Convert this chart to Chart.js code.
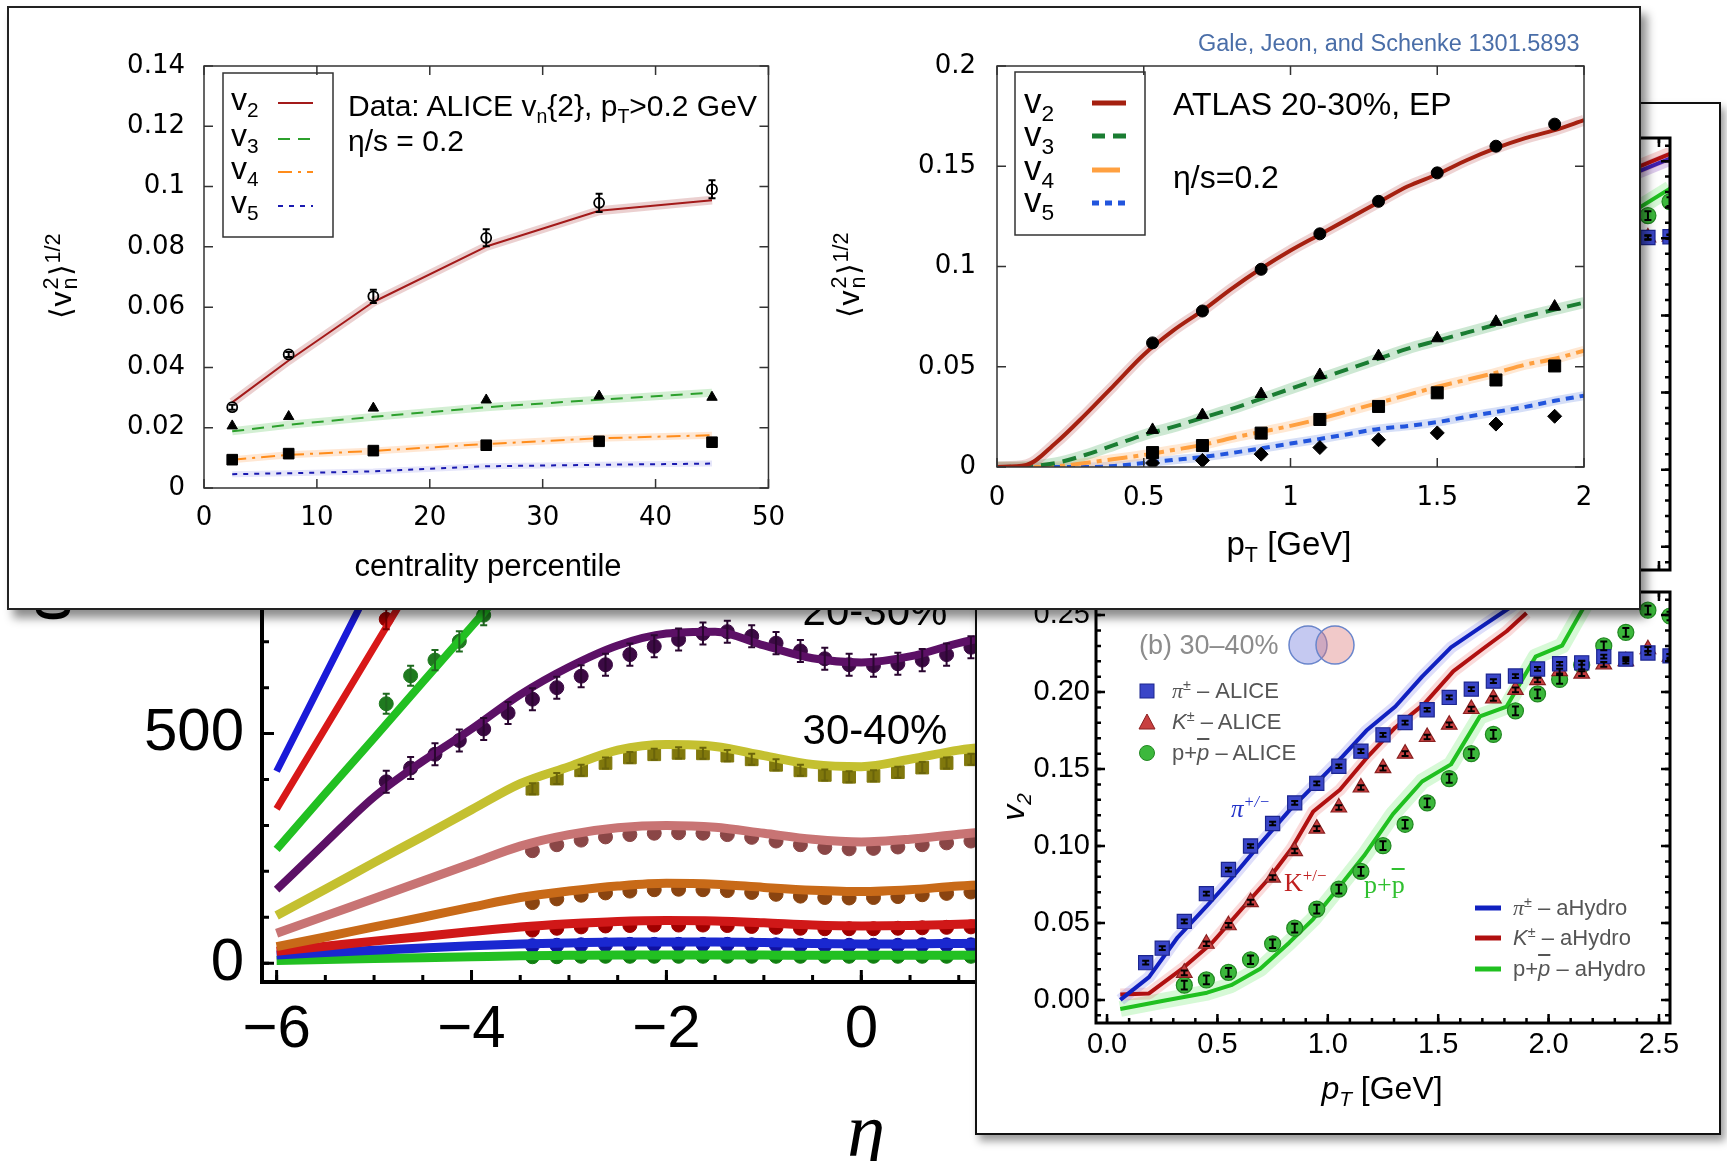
<!DOCTYPE html>
<html>
<head>
<meta charset="utf-8">
<script src="https://cdn.jsdelivr.net/npm/chart.js@4.4.1/dist/chart.umd.min.js"></script>
<style>
  body { margin:0; width:1727px; height:1161px; position:relative; overflow:hidden; background:#fff;
         font-family:'Liberation Sans', Arial, sans-serif; color:#000; }
  canvas { position:absolute; }
  .a { position:absolute; white-space:nowrap; line-height:1; transform:translateY(-50%); }
  .c { transform:translate(-50%,-50%); }
  .rot { transform:translate(-50%,-50%) rotate(-90deg); }
  sub, sup { font-size:0.65em; line-height:0; }
  .yt sup { font-size:0.72em; }
  .st { display:inline-flex; flex-direction:column; font-size:.72em; line-height:.9; vertical-align:0.6em; margin:0 2px; }
  #topBox { position:absolute; left:7px; top:6px; width:1634px; height:604px; box-sizing:border-box;
            border:2px solid #222; background:#fff; box-shadow:6px 8px 9px rgba(0,0,0,0.45); z-index:10; }
  #rightBox { position:absolute; left:975px; top:102px; width:746px; height:1033px; box-sizing:border-box;
              border:2px solid #111; background:#fff; box-shadow:4px 6px 8px rgba(0,0,0,0.4); z-index:5; }
  .narrow { font-family:'Liberation Sans Narrow', 'Liberation Sans', Arial, sans-serif; }
  .serif { font-family:'Liberation Serif', 'DejaVu Serif', serif; }
</style>
</head>
<body>

<!-- background: pseudorapidity distributions -->
<canvas id="cEta" width="1000" height="711" style="left:0;top:450px;z-index:1"></canvas>
<div class="a c narrow" style="left:875px;top:730px;font-size:42px;z-index:2">30-40%</div>
<div class="a c narrow" style="left:875px;top:611px;font-size:42px;z-index:2">20-30%</div>
<div class="a c serif" style="left:866px;top:1130px;font-size:76px;font-style:italic;z-index:2">η</div>
<div class="a" style="left:16px;top:622px;font-size:64px;line-height:1;transform-origin:0 0;transform:rotate(-90deg);z-index:2">dN/dη</div>

<!-- right panel: identified particle v2 -->
<div id="rightBox"></div>
<canvas id="cA" width="735" height="480" style="left:980px;top:110px;z-index:6"></canvas>
<canvas id="cB" width="735" height="560" style="left:980px;top:560px;z-index:6"></canvas>
<svg width="746" height="1033" style="position:absolute;left:975px;top:102px;z-index:7">
  <circle cx="333" cy="543" r="19" fill="rgba(110,120,220,0.4)" stroke="#6a86cc" stroke-width="1.5"/>
  <circle cx="360" cy="543" r="19" fill="rgba(220,120,120,0.4)" stroke="#6a86cc" stroke-width="1.5"/>
  <rect x="165" y="582" width="14" height="14" fill="#3a46c8" stroke="#1c2690" stroke-width="1"/>
  <polygon points="172,612 180,627 164,627" fill="#c84040" stroke="#8a2020" stroke-width="1"/>
  <circle cx="172" cy="651" r="7.5" fill="#3cb83c" stroke="#228822" stroke-width="1"/>
  <line x1="500" y1="806" x2="526" y2="806" stroke="#1020c0" stroke-width="5"/>
  <line x1="500" y1="836" x2="526" y2="836" stroke="#b01010" stroke-width="5"/>
  <line x1="500" y1="867" x2="526" y2="867" stroke="#20c020" stroke-width="5"/>
</svg>
<div class="a" style="left:1139px;top:645px;font-size:27px;color:#8c8c8c;z-index:7">(b) 30–40%</div>
<div class="a" style="left:1172px;top:691px;font-size:22px;color:#555;z-index:7"><i class="serif">π</i><sup>±</sup> – ALICE</div>
<div class="a" style="left:1172px;top:722px;font-size:22px;color:#555;z-index:7"><i>K</i><sup>±</sup> – ALICE</div>
<div class="a" style="left:1172px;top:753px;font-size:22px;color:#555;z-index:7">p+<i style="text-decoration:overline">p</i> – ALICE</div>
<div class="a" style="left:1513px;top:908px;font-size:22px;color:#555;z-index:7"><i class="serif">π</i><sup>±</sup> – aHydro</div>
<div class="a" style="left:1513px;top:938px;font-size:22px;color:#555;z-index:7"><i>K</i><sup>±</sup> – aHydro</div>
<div class="a" style="left:1513px;top:969px;font-size:22px;color:#555;z-index:7">p+<i style="text-decoration:overline">p</i> – aHydro</div>
<div class="a serif" style="left:1231px;top:808px;font-size:25px;color:#2232c8;font-style:italic;z-index:7">π<sup>+/−</sup></div>
<div class="a serif" style="left:1284px;top:883px;font-size:26px;color:#c02020;z-index:7">K<sup>+/−</sup></div>
<div class="a serif" style="left:1364px;top:885px;font-size:26px;color:#30c030;z-index:7">p+<span style="text-decoration:overline">p</span></div>
<div class="a c" style="left:1382px;top:1088px;font-size:32px;z-index:7"><i>p<sub>T</sub></i> [GeV]</div>
<div class="a rot" style="left:1013px;top:807px;font-size:32px;font-style:italic;z-index:7">v<sub>2</sub></div>

<!-- foreground box: two hydro comparisons -->
<div id="topBox"></div>
<canvas id="cCent" width="790" height="590" style="left:10px;top:10px;z-index:11"></canvas>
<canvas id="cAtlas" width="820" height="590" style="left:810px;top:10px;z-index:11"></canvas>
<svg width="1634" height="604" style="position:absolute;left:7px;top:6px;z-index:12">
  <rect x="216" y="67" width="110" height="164" fill="none" stroke="#333" stroke-width="1.5"/>
  <line x1="271" y1="97" x2="306" y2="97" stroke="#a31a1a" stroke-width="2"/>
  <line x1="271" y1="133" x2="306" y2="133" stroke="#2ca02c" stroke-width="2" stroke-dasharray="12 8"/>
  <line x1="271" y1="166" x2="306" y2="166" stroke="#ff8c1a" stroke-width="2" stroke-dasharray="14 6 3 6"/>
  <line x1="271" y1="200" x2="306" y2="200" stroke="#1a1ab0" stroke-width="2" stroke-dasharray="5 6"/>
  <rect x="1008" y="66" width="130" height="163" fill="none" stroke="#333" stroke-width="1.5"/>
  <line x1="1085" y1="97" x2="1119" y2="97" stroke="#a52010" stroke-width="5"/>
  <line x1="1085" y1="130" x2="1119" y2="130" stroke="#1a7d32" stroke-width="5" stroke-dasharray="13 8"/>
  <line x1="1085" y1="164" x2="1113" y2="164" stroke="#ffa040" stroke-width="5"/>
  <line x1="1085" y1="197" x2="1119" y2="197" stroke="#2255dd" stroke-width="5" stroke-dasharray="7 6"/>
</svg>
<div class="a" style="left:231px;top:99px;font-size:32px;z-index:12">v<sub>2</sub></div>
<div class="a" style="left:231px;top:135px;font-size:32px;z-index:12">v<sub>3</sub></div>
<div class="a" style="left:231px;top:168px;font-size:32px;z-index:12">v<sub>4</sub></div>
<div class="a" style="left:231px;top:202px;font-size:32px;z-index:12">v<sub>5</sub></div>
<div class="a" style="left:348px;top:106px;font-size:30px;z-index:12">Data: ALICE v<sub>n</sub>{2}, p<sub>T</sub>&gt;0.2 GeV</div>
<div class="a" style="left:348px;top:141px;font-size:30px;z-index:12">η/s = 0.2</div>
<div class="a c" style="left:488px;top:565px;font-size:31px;z-index:12">centrality percentile</div>
<div class="a rot yt" style="left:60px;top:276px;font-size:30px;z-index:12">⟨v<span class="st"><span>2</span><span>n</span></span>⟩<sup>1/2</sup></div>

<div class="a" style="left:1024px;top:100px;font-size:35px;z-index:12">v<sub>2</sub></div>
<div class="a" style="left:1024px;top:133px;font-size:35px;z-index:12">v<sub>3</sub></div>
<div class="a" style="left:1024px;top:167px;font-size:35px;z-index:12">v<sub>4</sub></div>
<div class="a" style="left:1024px;top:199px;font-size:35px;z-index:12">v<sub>5</sub></div>
<div class="a" style="left:1173px;top:104px;font-size:32px;z-index:12">ATLAS 20-30%, EP</div>
<div class="a" style="left:1173px;top:177px;font-size:32px;z-index:12">η/s=0.2</div>
<div class="a c" style="left:1289px;top:543px;font-size:33px;z-index:12">p<sub>T</sub> [GeV]</div>
<div class="a rot yt" style="left:848px;top:275px;font-size:30px;z-index:12">⟨v<span class="st"><span>2</span><span>n</span></span>⟩<sup>1/2</sup></div>
<div class="a narrow" style="left:1198px;top:44px;font-size:23.5px;color:#4a6ea8;z-index:12">Gale, Jeon, and Schenke 1301.5893</div>

<script>
// ---------- top left: rms vn vs centrality ----------
const centPct = [2.5, 7.5, 15, 25, 35, 45];
const v2Alice = [0.0268, 0.0443, 0.0636, 0.083, 0.0946, 0.0991];
const v2AliceErr = [0.0008, 0.0008, 0.0022, 0.0028, 0.003, 0.003];
const v3Alice = [0.0206, 0.0237, 0.0265, 0.0292, 0.0305, 0.0301];
const v4Alice = [0.0094, 0.0114, 0.0124, 0.0142, 0.0155, 0.0152];
const v2Hydro = [0.0284, 0.0423, 0.0617, 0.0801, 0.092, 0.0955];
const v3Hydro = [0.0188, 0.021, 0.0236, 0.0268, 0.0293, 0.0316];
const v4Hydro = [0.0094, 0.011, 0.0123, 0.0146, 0.0165, 0.0175];
const v5Hydro = [0.0046, 0.0049, 0.0055, 0.0072, 0.0077, 0.0081];

// ---------- top right: ATLAS 20-30% vn(pT) ----------
const atlasPt = [0.53, 0.7, 0.9, 1.1, 1.3, 1.5, 1.7, 1.9];
const atlasV2 = [0.0619, 0.0778, 0.0986, 0.1163, 0.1325, 0.1467, 0.160, 0.171];
const atlasV3 = [0.0185, 0.0259, 0.0364, 0.0459, 0.0553, 0.0642, 0.0724, 0.080];
const atlasV4 = [0.0072, 0.0107, 0.0169, 0.0237, 0.0302, 0.037, 0.0434, 0.0504];
const atlasV5 = [0.002, 0.0033, 0.0064, 0.0097, 0.0136, 0.017, 0.0214, 0.0253];
const hydroPt = [0, 0.1, 0.2, 0.3, 0.4, 0.5, 0.6, 0.7, 0.8, 0.9, 1.0, 1.1, 1.2, 1.3, 1.4, 1.5, 1.6, 1.7, 1.8, 1.9, 2.0];
const hydroV2 = [0, 0.001, 0.012, 0.026, 0.041, 0.056, 0.068, 0.078, 0.089, 0.099, 0.108, 0.116, 0.124, 0.132, 0.140, 0.146, 0.153, 0.159, 0.164, 0.168, 0.173];
const hydroV3 = [0, 0.0003, 0.002, 0.006, 0.011, 0.016, 0.020, 0.0245, 0.029, 0.034, 0.039, 0.044, 0.049, 0.054, 0.059, 0.063, 0.067, 0.071, 0.075, 0.0785, 0.082];
const hydroV4 = [0, 0, 0.0003, 0.002, 0.004, 0.006, 0.0085, 0.011, 0.0145, 0.0175, 0.0205, 0.024, 0.028, 0.032, 0.036, 0.040, 0.0435, 0.047, 0.051, 0.054, 0.058];
const hydroV5 = [0, 0, 0, 0, 0.0005, 0.002, 0.0035, 0.005, 0.007, 0.0093, 0.0117, 0.014, 0.0165, 0.019, 0.0205, 0.0224, 0.025, 0.0275, 0.030, 0.033, 0.0356];

// ---------- background: dN/deta vs eta ----------
const etaGrid = [-6, -5.5, -5, -4.5, -4, -3.5, -3, -2.5, -2, -1.5, -1, -0.5, 0, 0.5, 1, 1.5];
const blueTop = [418, 628, 837, 1047];
const redTop = [336, 512, 688, 864, 1040];
const greenTop = [248, 370, 490, 612, 733, 855, 975];
const purple = [160, 262, 362, 440, 510, 585, 645, 692, 718, 722, 692, 664, 655, 668, 697, 720];
const yellow = [104, 161, 219, 276, 334, 391, 428, 464, 476, 472, 452, 433, 428, 444, 464, 475];
const pink = [65, 103, 141, 179, 217, 255, 280, 295, 300, 296, 283, 270, 264, 270, 281, 290];
const orange = [36, 57, 79, 100, 122, 143, 157, 168, 174, 172, 165, 159, 156, 160, 168, 172];
const red = [26, 37, 48, 58, 69, 79, 86, 91, 93, 92, 88, 83, 81, 82, 85, 88];
const blue = [18, 23, 28, 33, 38, 42, 44, 46, 46, 46, 45, 43, 42, 42, 43, 44];
const green = [6, 8, 10, 12, 14, 16, 17, 18, 18, 18, 18, 17, 17, 17, 17, 18];

const greenTopEta = [-4.875, -4.625, -4.375, -4.125, -3.875];
const greenTopData = [565, 626, 660, 701, 758];
const redTopEta = [-4.875];
const redTopData = [749];
const purpleEta = [-4.875, -4.625, -4.375, -4.125, -3.875, -3.625, -3.375, -3.125, -2.875, -2.625, -2.375, -2.125, -1.875,
                   -1.625, -1.375, -1.125, -0.875, -0.625, -0.375, -0.125, 0.125, 0.375, 0.625, 0.875, 1.125];
const purpleData = [395, 425, 455, 485, 510, 545, 575, 600, 625, 650, 672, 690, 705, 718, 722, 712, 697, 680, 663, 650, 648, 652, 660, 672, 688];
const dataEta = [-3.375, -3.125, -2.875, -2.625, -2.375, -2.125, -1.875, -1.625, -1.375, -1.125, -0.875, -0.625, -0.375,
                 -0.125, 0.125, 0.375, 0.625, 0.875, 1.125];
const yellowData = [380, 402, 420, 436, 448, 455, 458, 457, 452, 444, 432, 420, 410, 406, 408, 416, 426, 436, 444];
const pinkData = [245, 258, 268, 275, 280, 283, 284, 283, 280, 274, 266, 258, 252, 249, 250, 253, 258, 262, 266];
const orangeData = [132, 140, 148, 153, 157, 160, 161, 160, 158, 154, 150, 146, 143, 142, 143, 145, 149, 152, 155];
const redData = [72, 76, 79, 81, 82, 83, 83, 83, 82, 80, 78, 76, 75, 75, 75, 76, 77, 78, 79];
const blueData = [38, 39, 40, 40, 41, 41, 41, 41, 41, 40, 40, 39, 39, 39, 39, 39, 40, 40, 40];
const greenData = [14, 14, 15, 15, 15, 15, 15, 15, 15, 15, 15, 15, 15, 15, 15, 15, 15, 15, 15];

// ---------- right panel (b) 30-40%: identified hadrons ----------
const piPt = [0.175, 0.25, 0.35, 0.45, 0.55, 0.65, 0.75, 0.85, 0.95, 1.05, 1.15, 1.25, 1.35, 1.45, 1.55, 1.65, 1.75, 1.85, 1.95, 2.05, 2.15, 2.25, 2.35, 2.45, 2.55];
const piV2 = [0.0242, 0.0336, 0.051, 0.069, 0.0847, 0.100, 0.1146, 0.128, 0.1407, 0.1518, 0.1616, 0.1722, 0.1802, 0.1885, 0.1965, 0.2019, 0.2071, 0.2104, 0.215, 0.2184, 0.219, 0.223, 0.2214, 0.2254, 0.2235];
const kpPt = [0.35, 0.45, 0.55, 0.65, 0.75, 0.85, 0.95, 1.05, 1.15, 1.25, 1.35, 1.45, 1.55, 1.65, 1.75, 1.85, 1.95, 2.05, 2.15, 2.25, 2.35, 2.45, 2.55];
const kV2 = [0.0176, 0.0365, 0.0485, 0.0635, 0.0795, 0.0967, 0.1113, 0.125, 0.138, 0.1506, 0.160, 0.1708, 0.1788, 0.189, 0.1958, 0.2014, 0.2078, 0.2136, 0.212, 0.218, 0.220, 0.2278, 0.223];
const pV2 = [0.0096, 0.013, 0.0179, 0.0261, 0.0365, 0.0466, 0.059, 0.072, 0.0835, 0.1002, 0.1141, 0.128, 0.1438, 0.160, 0.1725, 0.1878, 0.1988, 0.2082, 0.2176, 0.230, 0.2388, 0.2532, 0.2494];
const piLinePt = [0.06, 0.19, 0.32, 0.45, 0.56, 0.69, 0.825, 0.956, 1.066, 1.175, 1.306, 1.427, 1.558, 1.678, 1.8, 1.9];
const piLine = [0.0, 0.0148, 0.0407, 0.0607, 0.0784, 0.1007, 0.123, 0.142, 0.158, 0.175, 0.1906, 0.210, 0.229, 0.2407, 0.2525, 0.262];
const kLinePt = [0.06, 0.19, 0.344, 0.475, 0.606, 0.737, 0.836, 0.934, 1.055, 1.175, 1.306, 1.438, 1.569, 1.7, 1.81, 1.9];
const kLine = [0.0035, 0.0042, 0.0207, 0.037, 0.0584, 0.0795, 0.0984, 0.1224, 0.1365, 0.157, 0.177, 0.1925, 0.2136, 0.2278, 0.2395, 0.2513];
const pLinePt = [0.06, 0.256, 0.453, 0.562, 0.694, 0.825, 0.934, 1.044, 1.164, 1.295, 1.427, 1.558, 1.689, 1.81, 1.941, 2.061, 2.149, 2.2];
const pLine = [-0.0059, -0.0005, 0.0047, 0.0096, 0.0202, 0.0372, 0.0525, 0.072, 0.0936, 0.1207, 0.1419, 0.153, 0.1842, 0.1906, 0.223, 0.2301, 0.2525, 0.265];

// panel (a), only its right edge peeks out
const aPt = [2.45, 2.55];
const aPiK = [0.2005, 0.201];
const aP = [0.2147, 0.2238];
const aLinePt = [2.3, 2.55];
const aPiLine = [0.237, 0.2516];
const aKLine = [0.240, 0.2548];
const aPLine = [0.210, 0.2322];

Chart.defaults.font.family = "'Liberation Sans', Arial, sans-serif";
Chart.defaults.color = '#000';

const pts = (xs, ys) => xs.map((x, i) => ({ x, y: ys[i] }));
const range = (a, b, s) => { const r = []; for (let v = a; v <= b + 1e-9; v += s) r.push(+v.toFixed(4)); return r; };

function curve(xs, ys, color, width, dash, smooth) {
  return { data: pts(xs, ys), showLine: true, borderColor: color, borderWidth: width, borderDash: dash || [],
           pointRadius: 0, tension: smooth ? 0.4 : 0, cubicInterpolationMode: smooth ? 'monotone' : 'default',
           borderCapStyle: 'butt', borderJoinStyle: 'round' };
}
function marks(xs, ys, style, r, fill, edge, bw, err, errColor) {
  return { data: pts(xs, ys), showLine: false, pointStyle: style, pointRadius: r, backgroundColor: fill,
           borderColor: edge, borderWidth: bw, errY: err, errColor: errColor || '#000' };
}

// vertical error bars with small caps
const errorBars = {
  id: 'errorBars',
  afterDatasetsDraw(chart) {
    const { ctx, chartArea: a, scales: { x, y } } = chart;
    ctx.save();
    ctx.beginPath(); ctx.rect(a.left, a.top, a.right - a.left, a.bottom - a.top); ctx.clip();
    chart.data.datasets.forEach(ds => {
      if (ds.errY === undefined) return;
      ctx.strokeStyle = ds.errColor; ctx.lineWidth = 2;
      ds.data.forEach((p, j) => {
        const e = Array.isArray(ds.errY) ? ds.errY[j] : ds.errY;
        const px = x.getPixelForValue(p.x), y1 = y.getPixelForValue(p.y - e), y2 = y.getPixelForValue(p.y + e);
        ctx.beginPath();
        ctx.moveTo(px, y1); ctx.lineTo(px, y2);
        ctx.moveTo(px - 3.5, y1); ctx.lineTo(px + 3.5, y1);
        ctx.moveTo(px - 3.5, y2); ctx.lineTo(px + 3.5, y2);
        ctx.stroke();
      });
    });
    ctx.restore();
  }
};

// plot frame with inward tick marks
const frameTicks = {
  id: 'frameTicks',
  afterDraw(chart, args, o) {
    const { ctx, chartArea: a, scales: { x, y } } = chart;
    const sides = o.sides || ['left', 'bottom', 'right', 'top'];
    ctx.save();
    ctx.strokeStyle = o.color; ctx.lineWidth = o.width; ctx.lineCap = 'square';
    ctx.beginPath();
    if (sides.includes('left')) { ctx.moveTo(a.left, a.top); ctx.lineTo(a.left, a.bottom); }
    if (sides.includes('bottom')) { ctx.moveTo(a.left, a.bottom); ctx.lineTo(a.right, a.bottom); }
    if (sides.includes('right')) { ctx.moveTo(a.right, a.top); ctx.lineTo(a.right, a.bottom); }
    if (sides.includes('top')) { ctx.moveTo(a.left, a.top); ctx.lineTo(a.right, a.top); }
    ctx.stroke();
    ctx.lineWidth = o.tickWidth || o.width; ctx.lineCap = 'butt';
    const draw = (vals, len) => {
      ctx.beginPath();
      (vals.x || []).forEach(v => {
        const px = x.getPixelForValue(v);
        if (px < a.left - 0.5 || px > a.right + 0.5) return;
        if (sides.includes('bottom')) { ctx.moveTo(px, a.bottom); ctx.lineTo(px, a.bottom - len); }
        if (sides.includes('top')) { ctx.moveTo(px, a.top); ctx.lineTo(px, a.top + len); }
      });
      (vals.y || []).forEach(v => {
        const py = y.getPixelForValue(v);
        if (py < a.top - 0.5 || py > a.bottom + 0.5) return;
        if (sides.includes('left')) { ctx.moveTo(a.left, py); ctx.lineTo(a.left + len, py); }
        if (sides.includes('right')) { ctx.moveTo(a.right, py); ctx.lineTo(a.right - len, py); }
      });
      ctx.stroke();
    };
    if (o.minor) draw(o.minor, o.minorLen);
    draw(o.major, o.majorLen);
    ctx.restore();
  }
};

function axis(min, max, size, tickVals, fontSize, pad, horiz, fmt, family) {
  return {
    type: 'linear', min, max,
    afterFit: s => { if (horiz) s.height = size; else s.width = size; },
    afterBuildTicks: s => { s.ticks = tickVals.map(v => ({ value: v })); },
    grid: { display: false, drawTicks: false },
    border: { display: false },
    ticks: { display: fontSize > 0, autoSkip: false, maxRotation: 0, padding: pad, color: '#000',
             font: { size: fontSize || 10, family: family || "'Liberation Sans', Arial, sans-serif" },
             callback: fmt || (v => String(v)) }
  };
}

function makeChart(id, datasets, xAx, yAx, pad, frame) {
  return new Chart(document.getElementById(id), {
    type: 'scatter',
    data: { datasets },
    options: {
      responsive: false, animation: false, events: [],
      layout: { padding: pad },
      plugins: { legend: { display: false }, tooltip: { enabled: false }, frameTicks: frame },
      scales: { x: xAx, y: yAx }
    },
    plugins: [errorBars, frameTicks]
  });
}

const gp = "'DejaVu Sans', 'Liberation Sans', sans-serif";

// ----- top left chart -----
makeChart('cCent', [
  marks(centPct, v2Alice, 'circle', 5, 'rgba(255,255,255,0)', '#000', 1.8, v2AliceErr),
  marks(centPct, v3Alice, 'triangle', 6, '#000', '#000', 1),
  marks(centPct, v4Alice, 'rect', 7.5, '#000', '#000', 1),
  curve(centPct, v2Hydro, '#a31a1a', 2),
  curve(centPct, v3Hydro, '#2ca02c', 2, [12, 8]),
  curve(centPct, v4Hydro, '#ff8c1a', 2, [14, 6, 3, 6]),
  curve(centPct, v5Hydro, '#1a1ab0', 2, [5, 6]),
  curve(centPct, v2Hydro, 'rgba(190,100,100,0.3)', 9),
  curve(centPct, v3Hydro, 'rgba(80,190,80,0.25)', 8),
  curve(centPct, v4Hydro, 'rgba(255,160,80,0.25)', 7),
  curve(centPct, v5Hydro, 'rgba(90,90,220,0.15)', 6)
],
  axis(0, 50, 112, range(0, 50, 10), 26, 15, true, null, gp),
  axis(0, 0.14, 194, range(0, 0.14, 0.02), 26, 19, false, null, gp),
  { top: 56, right: 26, left: 0, bottom: 0 },
  { color: '#333', width: 1.5, major: { x: range(0, 50, 10), y: range(0, 0.14, 0.02) }, majorLen: 9 });

// ----- top right chart -----
makeChart('cAtlas', [
  marks(atlasPt, atlasV2, 'circle', 6, '#000', '#000', 1),
  marks(atlasPt, atlasV3, 'triangle', 7, '#000', '#000', 1),
  marks(atlasPt, atlasV4, 'rect', 8.5, '#000', '#000', 1),
  marks(atlasPt, atlasV5, 'rectRot', 7, '#000', '#000', 1),
  curve(hydroPt, hydroV2, '#a52010', 4, [], true),
  curve(hydroPt, hydroV3, '#1a7d32', 4, [14, 8], true),
  curve(hydroPt, hydroV4, '#ffa040', 4, [20, 6, 5, 6], true),
  curve(hydroPt, hydroV5, '#2255dd', 4, [8, 6], true),
  curve(hydroPt, hydroV2, 'rgba(200,110,110,0.3)', 11, [], true),
  curve(hydroPt, hydroV3, 'rgba(90,180,110,0.3)', 11, [], true),
  curve(hydroPt, hydroV4, 'rgba(255,190,130,0.35)', 10, [], true),
  curve(hydroPt, hydroV5, 'rgba(120,150,230,0.3)', 9, [], true)
],
  axis(0, 2, 133, range(0, 2, 0.5), 26, 16, true, null, gp),
  axis(0, 0.2, 187, range(0, 0.2, 0.05), 26, 21, false, null, gp),
  { top: 56, right: 46, left: 0, bottom: 0 },
  { color: '#333', width: 1.5, major: { x: range(0, 2, 0.5), y: range(0, 0.2, 0.05) }, majorLen: 9 });

// ----- eta distributions -----
const etaLbl = v => v < 0 ? '\u2212' + (-v) : String(v);
const narrow = "'Liberation Sans Narrow', 'Liberation Sans', Arial, sans-serif";
makeChart('cEta', [
  curve(etaGrid.slice(0, 4), blueTop, '#1a1ad8', 7),
  curve(etaGrid.slice(0, 5), redTop, '#d81818', 7),
  curve(etaGrid.slice(0, 7), greenTop, '#22c022', 8),
  curve(etaGrid, purple, '#5c1066', 8, [], true),
  curve(etaGrid, yellow, '#c4c030', 9, [], true),
  curve(etaGrid, pink, '#c87474', 9, [], true),
  curve(etaGrid, orange, '#c86a18', 9, [], true),
  curve(etaGrid, red, '#d01818', 9, [], true),
  curve(etaGrid, blue, '#1a28d0', 9, [], true),
  curve(etaGrid, green, '#22c022', 9, [], true),
  marks(greenTopEta, greenTopData, 'circle', 7, '#1f7a1f', '#1f7a1f', 1, 22, '#1f6a1f'),
  marks(redTopEta, redTopData, 'circle', 7, '#a00000', '#a00000', 1, 22, '#800000'),
  marks(purpleEta, purpleData, 'circle', 7, '#3c0a44', '#3c0a44', 1, 24, '#2a0630'),
  marks(dataEta, yellowData, 'rect', 9, '#80780c', '#80780c', 1, 12, '#6a640a'),
  marks(dataEta, pinkData, 'circle', 7, '#8a4646', '#8a4646', 1),
  marks(dataEta, orangeData, 'circle', 7, '#8a4410', '#8a4410', 1),
  marks(dataEta, redData, 'circle', 7, '#a00000', '#a00000', 1),
  marks(dataEta, blueData, 'circle', 7, '#1010a0', '#1010a0', 1),
  marks(dataEta, greenData, 'circle', 7, '#108010', '#108010', 1)
],
  axis(-6.15, 1.3, 179, [-6, -4, -2, 0], 60, 12, true, etaLbl, narrow),
  axis(-41, 1000, 262, [0, 500, 1000], 60, 18, false, v => String(v), narrow),
  { top: 51, right: 12, left: 0, bottom: 0 },
  { color: '#000', width: 4, tickWidth: 3, sides: ['left', 'bottom'],
    major: { x: range(-6, 6, 2), y: [0, 500, 1000] }, majorLen: 12,
    minor: { x: range(-6, 6, 0.5), y: range(0, 1000, 100) }, minorLen: 7 });

// ----- panel (b) -----
const bFrame = { color: '#000', width: 3, tickWidth: 2.5,
  major: { x: range(0, 2.5, 0.5), y: range(0, 0.25, 0.05) }, majorLen: 9,
  minor: { x: range(0, 2.5, 0.1), y: range(-0.01, 0.26, 0.01) }, minorLen: 5 };
makeChart('cB', [
  marks(piPt, piV2, 'rect', 10, '#3a46c8', '#1c2690', 1.2, 0.0012),
  marks(kpPt, kV2, 'triangle', 9, '#c84040', '#8a2020', 1.2, 0.0015),
  marks(kpPt, pV2, 'circle', 8, '#3cb83c', '#228822', 1.2, 0.0028),
  curve(piLinePt, piLine, '#1020c0', 4),
  curve(kLinePt, kLine, '#b01010', 4),
  curve(pLinePt, pLine, '#20c020', 4),
  curve(piLinePt, piLine, 'rgba(90,90,230,0.2)', 12),
  curve(kLinePt, kLine, 'rgba(230,90,90,0.22)', 12),
  curve(pLinePt, pLine, 'rgba(90,230,90,0.25)', 16)
],
  axis(-0.05, 2.55, 97, range(0, 2.5, 0.5), 29, 5, true, v => v.toFixed(1)),
  axis(-0.015, 0.265, 116, range(0, 0.25, 0.05), 29, 6, false, v => v.toFixed(2)),
  { top: 32, right: 45, left: 0, bottom: 0 }, bFrame);

// ----- panel (a) -----
makeChart('cA', [
  marks(aPt, aPiK, 'rect', 10, '#3a46c8', '#1c2690', 1.2, 0.0012),
  marks(aPt, aPiK, 'triangle', 9, '#c84040', '#8a2020', 1.2, 0.0015),
  marks(aPt, aP, 'circle', 8, '#3cb83c', '#228822', 1.2, 0.0028),
  curve(aLinePt, aPiLine, '#4020b0', 4),
  curve(aLinePt, aKLine, '#b01010', 4),
  curve(aLinePt, aPLine, '#20c020', 4),
  curve(aLinePt, aKLine, 'rgba(230,110,110,0.3)', 14),
  curve(aLinePt, aPiLine, 'rgba(150,90,200,0.3)', 14),
  curve(aLinePt, aPLine, 'rgba(90,230,90,0.25)', 16)
],
  axis(-0.05, 2.55, 20, range(0, 2.5, 0.5), 0, 5, true),
  axis(-0.015, 0.265, 116, range(0, 0.25, 0.05), 0, 6, false),
  { top: 28, right: 45, left: 0, bottom: 0 }, bFrame);
</script>
</body>
</html>
